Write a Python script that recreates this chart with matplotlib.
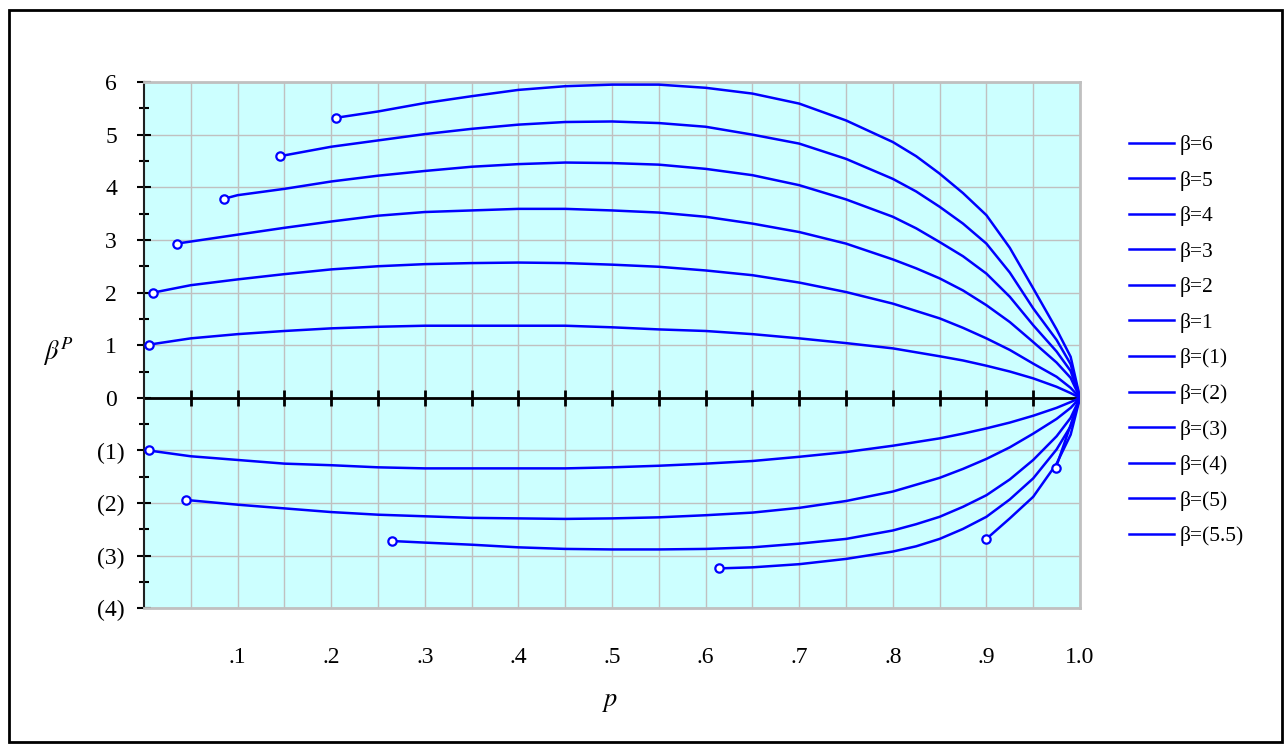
import numpy as np
import matplotlib
matplotlib.use("Agg")
import matplotlib.pyplot as plt
from matplotlib.patches import Rectangle

plt.rcParams["font.family"] = ["Liberation Serif", "DejaVu Serif"]
plt.rcParams["mathtext.fontset"] = "stix"

# === curves: p values and beta^P values ===
b6_p = [0.205, 0.25, 0.30, 0.35, 0.40, 0.45, 0.50, 0.55, 0.60, 0.65, 0.70, 0.75,
        0.80, 0.825, 0.85, 0.875, 0.90, 0.925, 0.95, 0.975, 0.99, 1.0]
b6_v = [5.32, 5.44, 5.60, 5.73, 5.85, 5.92, 5.95, 5.95, 5.89, 5.78, 5.59, 5.27,
        4.86, 4.59, 4.26, 3.89, 3.47, 2.85, 2.08, 1.30, 0.78, 0.0]

b5_p = [0.145, 0.20, 0.25, 0.30, 0.35, 0.40, 0.45, 0.50, 0.55, 0.60, 0.65, 0.70,
        0.75, 0.80, 0.825, 0.85, 0.875, 0.90, 0.925, 0.95, 0.975, 0.99, 1.0]
b5_v = [4.59, 4.77, 4.89, 5.01, 5.11, 5.19, 5.24, 5.25, 5.22, 5.15, 5.00, 4.83,
        4.54, 4.16, 3.92, 3.63, 3.31, 2.93, 2.38, 1.70, 1.10, 0.64, 0.0]

b4_p = [0.085, 0.10, 0.15, 0.20, 0.25, 0.30, 0.35, 0.40, 0.45, 0.50, 0.55, 0.60,
        0.65, 0.70, 0.75, 0.80, 0.825, 0.85, 0.875, 0.90, 0.925, 0.95, 0.975, 0.99, 1.0]
b4_v = [3.78, 3.85, 3.97, 4.11, 4.22, 4.31, 4.39, 4.44, 4.47, 4.46, 4.43, 4.35,
        4.23, 4.04, 3.77, 3.44, 3.22, 2.96, 2.69, 2.36, 1.92, 1.38, 0.88, 0.51, 0.0]

b3_p = [0.035, 0.10, 0.15, 0.20, 0.25, 0.30, 0.35, 0.40, 0.45, 0.50, 0.55, 0.60,
        0.65, 0.70, 0.75, 0.80, 0.825, 0.85, 0.875, 0.90, 0.925, 0.95, 0.975, 0.99, 1.0]
b3_v = [2.93, 3.10, 3.23, 3.35, 3.46, 3.53, 3.56, 3.59, 3.59, 3.56, 3.52, 3.44,
        3.31, 3.15, 2.93, 2.63, 2.46, 2.27, 2.04, 1.76, 1.44, 1.06, 0.67, 0.38, 0.0]

b2_p = [0.01, 0.05, 0.10, 0.15, 0.20, 0.25, 0.30, 0.35, 0.40, 0.45, 0.50, 0.55,
        0.60, 0.65, 0.70, 0.75, 0.80, 0.85, 0.875, 0.90, 0.925, 0.95, 0.975, 0.99, 1.0]
b2_v = [2.00, 2.14, 2.25, 2.35, 2.44, 2.50, 2.54, 2.56, 2.57, 2.56, 2.53, 2.49,
        2.42, 2.33, 2.19, 2.01, 1.79, 1.51, 1.33, 1.13, 0.91, 0.65, 0.40, 0.19, 0.0]

b1_p = [0.005, 0.05, 0.10, 0.15, 0.20, 0.25, 0.30, 0.35, 0.40, 0.45, 0.50, 0.55,
        0.60, 0.65, 0.70, 0.75, 0.80, 0.85, 0.875, 0.90, 0.925, 0.95, 0.975, 0.99, 1.0]
b1_v = [1.01, 1.13, 1.21, 1.27, 1.32, 1.35, 1.37, 1.37, 1.37, 1.37, 1.34, 1.30,
        1.27, 1.21, 1.13, 1.04, 0.94, 0.79, 0.71, 0.61, 0.50, 0.37, 0.21, 0.09, 0.0]

bm1_p = [0.005, 0.05, 0.10, 0.15, 0.20, 0.25, 0.30, 0.35, 0.40, 0.45, 0.50, 0.55,
         0.60, 0.65, 0.70, 0.75, 0.80, 0.85, 0.875, 0.90, 0.925, 0.95, 0.975, 0.99, 1.0]
bm1_v = [-1.00, -1.11, -1.18, -1.25, -1.28, -1.32, -1.34, -1.34, -1.34, -1.34, -1.32, -1.29,
         -1.25, -1.20, -1.12, -1.03, -0.91, -0.77, -0.68, -0.58, -0.47, -0.34, -0.19, -0.08, 0.0]

bm2_p = [0.045, 0.10, 0.15, 0.20, 0.25, 0.30, 0.35, 0.40, 0.45, 0.50, 0.55, 0.60,
         0.65, 0.70, 0.75, 0.80, 0.85, 0.875, 0.90, 0.925, 0.95, 0.975, 0.99, 1.0]
bm2_v = [-1.94, -2.03, -2.10, -2.17, -2.22, -2.25, -2.28, -2.29, -2.30, -2.29, -2.27, -2.23,
         -2.18, -2.09, -1.96, -1.78, -1.52, -1.35, -1.16, -0.94, -0.68, -0.40, -0.19, 0.0]

bm3_p = [0.265, 0.30, 0.35, 0.40, 0.45, 0.50, 0.55, 0.60, 0.65, 0.70, 0.75, 0.80,
         0.825, 0.85, 0.875, 0.90, 0.925, 0.95, 0.975, 0.99, 1.0]
bm3_v = [-2.72, -2.75, -2.79, -2.84, -2.87, -2.88, -2.88, -2.87, -2.84, -2.77, -2.68, -2.52,
         -2.40, -2.26, -2.07, -1.85, -1.55, -1.18, -0.73, -0.38, 0.0]

bm4_p = [0.614, 0.65, 0.70, 0.75, 0.80, 0.825, 0.85, 0.875, 0.90, 0.925, 0.95, 0.975, 0.99, 1.0]
bm4_v = [-3.24, -3.22, -3.16, -3.06, -2.92, -2.82, -2.68, -2.49, -2.26, -1.93, -1.53, -0.98, -0.54, 0.0]

bm5_p = [0.90, 0.925, 0.95, 0.975, 0.99, 1.0]
bm5_v = [-2.68, -2.29, -1.88, -1.25, -0.70, 0.0]

bm55_p = [0.974, 1.0]
bm55_v = [-1.34, 0.0]

labels = ["β=6", "β=5", "β=4", "β=3", "β=2", "β=1",
          "β=(1)", "β=(2)", "β=(3)", "β=(4)", "β=(5)", "β=(5.5)"]
curves = [(b6_p, b6_v), (b5_p, b5_v), (b4_p, b4_v), (b3_p, b3_v),
          (b2_p, b2_v), (b1_p, b1_v), (bm1_p, bm1_v), (bm2_p, bm2_v),
          (bm3_p, bm3_v), (bm4_p, bm4_v), (bm5_p, bm5_v), (bm55_p, bm55_v)]

y_ticks = [6, 5, 4, 3, 2, 1, 0, -1, -2, -3, -4]
y_tick_labels = ["6", "5", "4", "3", "2", "1", "0", "(1)", "(2)", "(3)", "(4)"]
x_ticks = [0.1, 0.2, 0.3, 0.4, 0.5, 0.6, 0.7, 0.8, 0.9, 1.0]
x_tick_labels = [".1", ".2", ".3", ".4", ".5", ".6", ".7", ".8", ".9", "1.0"]

W, H = 1285, 745
fig = plt.figure(figsize=(W / 100, H / 100), dpi=100)
ax = fig.add_axes([144 / W, 1 - 608.4 / H, (1080 - 144) / W, (608.4 - 82) / H])
ax.set_facecolor("#ccffff")
ax.set_xlim(0, 1.0)
ax.set_ylim(-4, 6)

# grid
ax.set_xticks(np.arange(0.05, 1.0, 0.05), minor=True)
ax.set_yticks(np.arange(-3.5, 6, 1.0), minor=True)
ax.set_yticks(y_ticks)
ax.set_yticklabels(y_tick_labels, ha="center")
ax.set_xticks(x_ticks)
ax.set_xticklabels(x_tick_labels)
ax.grid(True, which="major", color="#c0c0c0", lw=1)
ax.grid(True, which="minor", axis="x", color="#c0c0c0", lw=1)
ax.set_axisbelow(True)

ax.tick_params(axis="x", which="both", length=0, pad=28, labelsize=17)
ax.tick_params(axis="y", which="major", direction="inout", length=9.5, width=1.5,
               pad=19, labelsize=17)
ax.tick_params(axis="y", which="minor", direction="inout", length=7, width=1.5)

for s in ["top", "right", "bottom"]:
    ax.spines[s].set_color("#c0c0c0")
    ax.spines[s].set_linewidth(2)
ax.spines["left"].set_color("#202020")
ax.spines["left"].set_linewidth(1.5)

# horizontal axis through zero, with crossing tick marks every .05
zero_ticks = np.arange(0.05, 1.0, 0.05)
ax.axhline(0, color="black", lw=2, zorder=2)
ax.plot(zero_ticks, np.zeros_like(zero_ticks), ls="none", marker="|", ms=12,
        mew=2, color="black", zorder=2)

handles = []
for (p, v), lab in zip(curves, labels):
    line, = ax.plot(p, v, color="#0000ff", lw=1.8, label=lab, zorder=3,
                    solid_joinstyle="round")
    ax.plot(p[0], v[0], marker="o", ms=6, mfc="white", mec="#0000ff", mew=1.6,
            zorder=4)
    handles.append(line)

fig.legend(handles=handles, labels=labels, loc="upper left",
           bbox_to_anchor=(1129 / W, 1 - 135 / H), frameon=False, fontsize=15.5,
           handlelength=2.1, handletextpad=0.25, labelspacing=0.72,
           borderpad=0, borderaxespad=0)

fig.text(58 / W, 1 - 352 / H, r"$\beta^P$", fontsize=19, ha="center", va="center")
fig.text(610 / W, 1 - 703 / H, r"$p$", fontsize=19, ha="center", va="center")

fig.patches.append(Rectangle((9 / W, 3 / H), (1282 - 9) / W, (742 - 10) / H,
                             transform=fig.transFigure, fill=False, lw=2,
                             ec="black"))

fig.savefig("out.png", dpi=100)
